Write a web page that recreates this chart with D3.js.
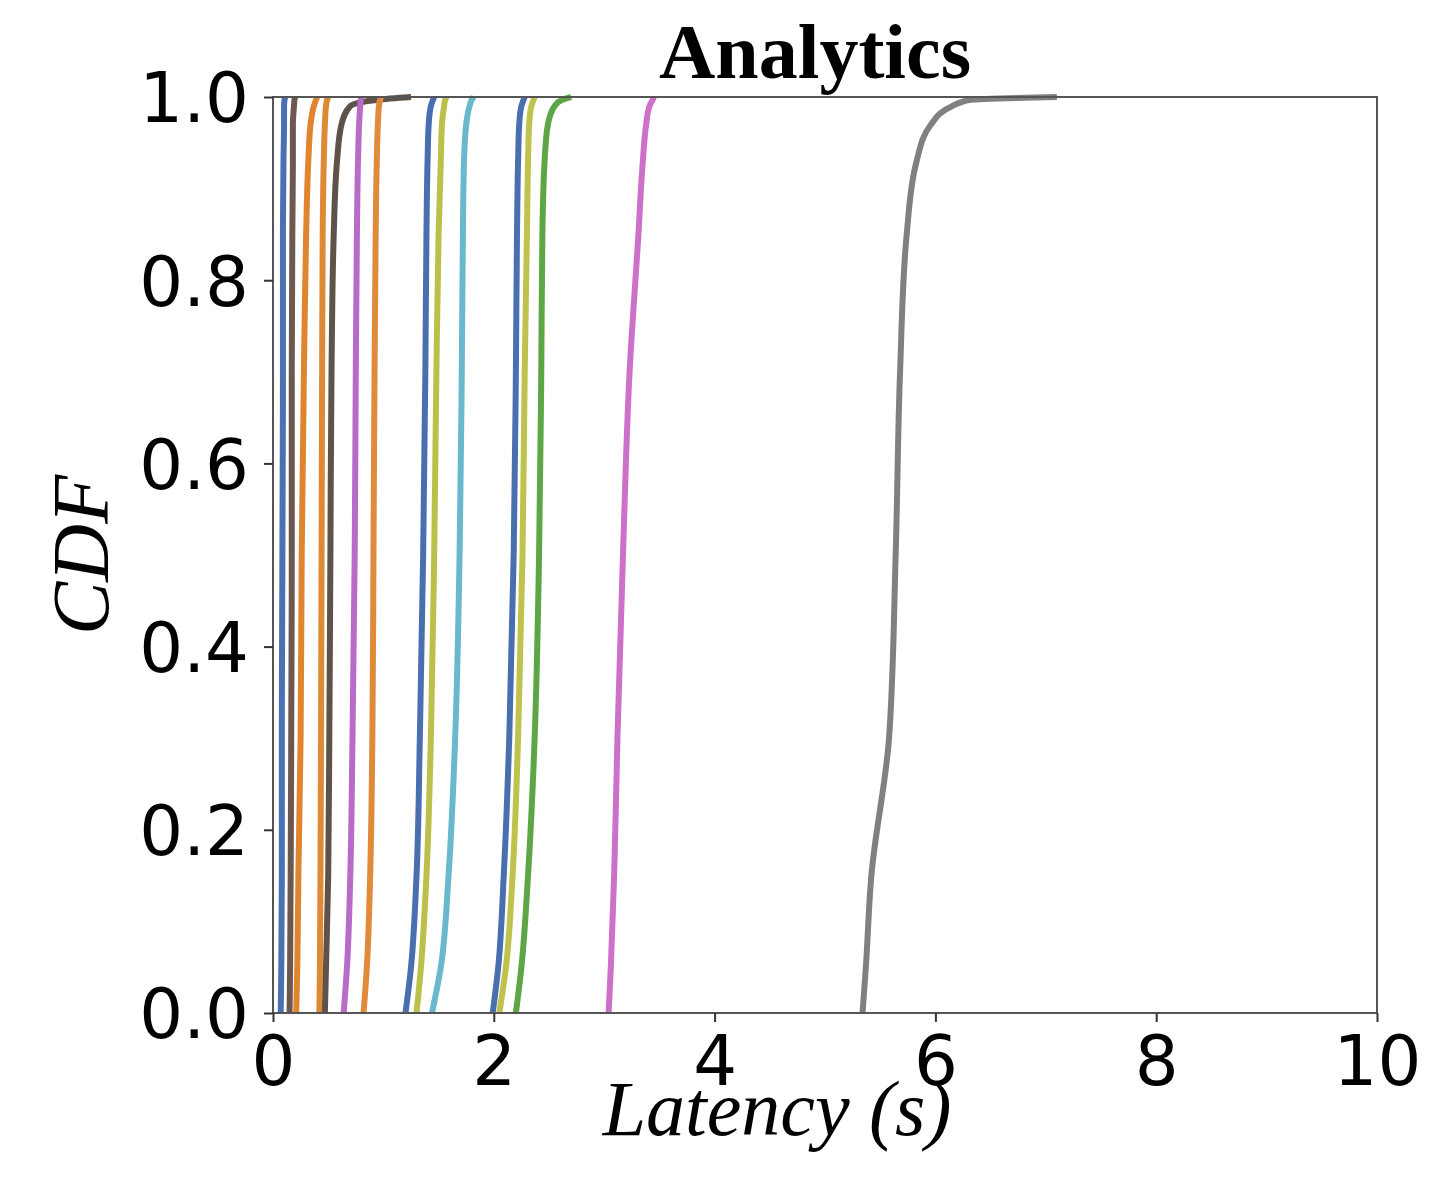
<!DOCTYPE html>
<html>
<head>
<meta charset="utf-8">
<script src="https://cdn.jsdelivr.net/npm/d3@7"></script>
<style>
  html, body { margin: 0; padding: 0; background: #ffffff; }
  svg { display: block; }
</style>
</head>
<body>
<svg id="chart" width="1432" height="1180"></svg>
<script>
// ---- data ----
const title = "Analytics";
const xLabel = "Latency (s)";
const yLabel = "CDF";
const xTicks = [0, 2, 4, 6, 8, 10];
const yTicks = [0.0, 0.2, 0.4, 0.6, 0.8, 1.0];

// shared CDF levels at which each series' latency is read
const cdfLevels = [0, 0.05, 0.15, 0.3, 0.5, 0.7, 0.85, 0.93, 0.97, 0.99, 0.997, 1.0];

const seriesNames = ["s1","s2","s3","s4","s5","s6","s7","s8","s9","s10","s11","s12","s13","s14","s15"];
const seriesColors = ["#4a72b2","#6d584f","#e0852f","#de8a35","#5e5249","#b96bc8","#e08a3a",
                      "#4a6fb0","#bcc04a","#6ab8cc","#4a6fae","#bfc24c","#5ea545","#cc70c8","#808080"];

const lat1  = [0.07,0.075,0.08,0.08,0.085,0.09,0.09,0.095,0.10,0.10,0.105,0.11];
const lat2  = [0.15,0.155,0.16,0.165,0.17,0.17,0.175,0.18,0.18,0.19,0.195,0.20];
const lat3  = [0.21,0.22,0.23,0.25,0.26,0.28,0.30,0.32,0.34,0.37,0.39,0.40];
const lat4  = [0.42,0.425,0.43,0.435,0.44,0.445,0.45,0.46,0.47,0.48,0.49,0.50];
const lat5  = [0.47,0.48,0.50,0.51,0.52,0.53,0.55,0.58,0.62,0.70,0.95,1.25];
const lat6  = [0.64,0.67,0.70,0.72,0.74,0.75,0.76,0.77,0.78,0.79,0.795,0.80];
const lat7  = [0.82,0.85,0.88,0.90,0.91,0.92,0.93,0.94,0.95,0.96,0.97,0.98];
const lat8  = [1.20,1.25,1.30,1.33,1.36,1.38,1.39,1.40,1.41,1.43,1.45,1.46];
const lat9  = [1.30,1.34,1.39,1.43,1.46,1.48,1.50,1.52,1.53,1.55,1.56,1.57];
const lat10 = [1.44,1.52,1.59,1.65,1.69,1.71,1.72,1.73,1.75,1.78,1.80,1.82];
const lat11 = [1.99,2.04,2.09,2.14,2.18,2.20,2.21,2.22,2.23,2.25,2.27,2.28];
const lat12 = [2.05,2.11,2.17,2.22,2.26,2.28,2.30,2.31,2.32,2.34,2.36,2.37];
const lat13 = [2.20,2.25,2.31,2.37,2.41,2.43,2.44,2.46,2.49,2.55,2.62,2.70];
const lat14 = [3.04,3.06,3.09,3.12,3.17,3.23,3.31,3.35,3.38,3.41,3.44,3.45];
const lat15 = [5.34,5.37,5.42,5.58,5.64,5.68,5.74,5.83,5.96,6.15,6.32,7.10];

const allLatencies = [lat1,lat2,lat3,lat4,lat5,lat6,lat7,lat8,lat9,lat10,lat11,lat12,lat13,lat14,lat15];

// ---- layout ----
const svg = d3.select("#chart");
const pLeft = 273, pRight = 1377, pTop = 97, pBottom = 1013;

const x = d3.scaleLinear().domain([0, 10]).range([pLeft, pRight]);
const y = d3.scaleLinear().domain([0, 1]).range([pBottom, pTop]);

const line = d3.line().x(d => x(d[0])).y(d => y(d[1])).curve(d3.curveMonotoneY);

// series lines
const g = svg.append("g");
allLatencies.forEach((lats, i) => {
  const pts = lats.map((v, k) => [v, cdfLevels[k]]);
  g.append("path")
    .datum(pts)
    .attr("d", line)
    .attr("fill", "none")
    .attr("stroke", seriesColors[i])
    .attr("stroke-width", 6)
    .attr("stroke-linejoin", "round");
});

// frame
svg.append("rect")
  .attr("x", pLeft).attr("y", pTop)
  .attr("width", pRight - pLeft).attr("height", pBottom - pTop)
  .attr("fill", "none").attr("stroke", "#555").attr("stroke-width", 2);

// axes
const xAxis = d3.axisBottom(x).tickValues(xTicks).tickSize(9).tickPadding(13).tickFormat(d3.format("d"));
const yAxis = d3.axisLeft(y).tickValues(yTicks).tickSize(9).tickPadding(15).tickFormat(d3.format(".1f"));

const gx = svg.append("g").attr("transform", `translate(0,${pBottom})`).call(xAxis);
const gy = svg.append("g").attr("transform", `translate(${pLeft},0)`).call(yAxis);

[gx, gy].forEach(a => {
  a.select(".domain").remove();
  a.selectAll(".tick line").attr("stroke", "#333").attr("stroke-width", 2);
  a.selectAll(".tick text")
    .attr("fill", "#000")
    .style("font-family", "'DejaVu Sans', sans-serif")
    .style("font-size", "69px");
});
gy.selectAll(".tick text").attr("dy", "0.36em");
gx.selectAll(".tick text").attr("dy", "0.72em");

// title
svg.append("text")
  .attr("x", 815).attr("y", 78)
  .attr("text-anchor", "middle")
  .style("font-family", "'Liberation Serif', 'Times New Roman', serif")
  .style("font-weight", "bold")
  .style("font-size", "78px")
  .text(title);

// x label
svg.append("text")
  .attr("x", 777).attr("y", 1135)
  .attr("text-anchor", "middle")
  .style("font-family", "'Liberation Serif', 'Times New Roman', serif")
  .style("font-style", "italic")
  .style("font-size", "78px")
  .text(xLabel);

// y label
svg.append("text")
  .attr("transform", "translate(108,555) rotate(-90)")
  .attr("text-anchor", "middle")
  .style("font-family", "'Liberation Serif', 'Times New Roman', serif")
  .style("font-style", "italic")
  .style("font-size", "80px")
  .text(yLabel);
</script>
</body>
</html>
